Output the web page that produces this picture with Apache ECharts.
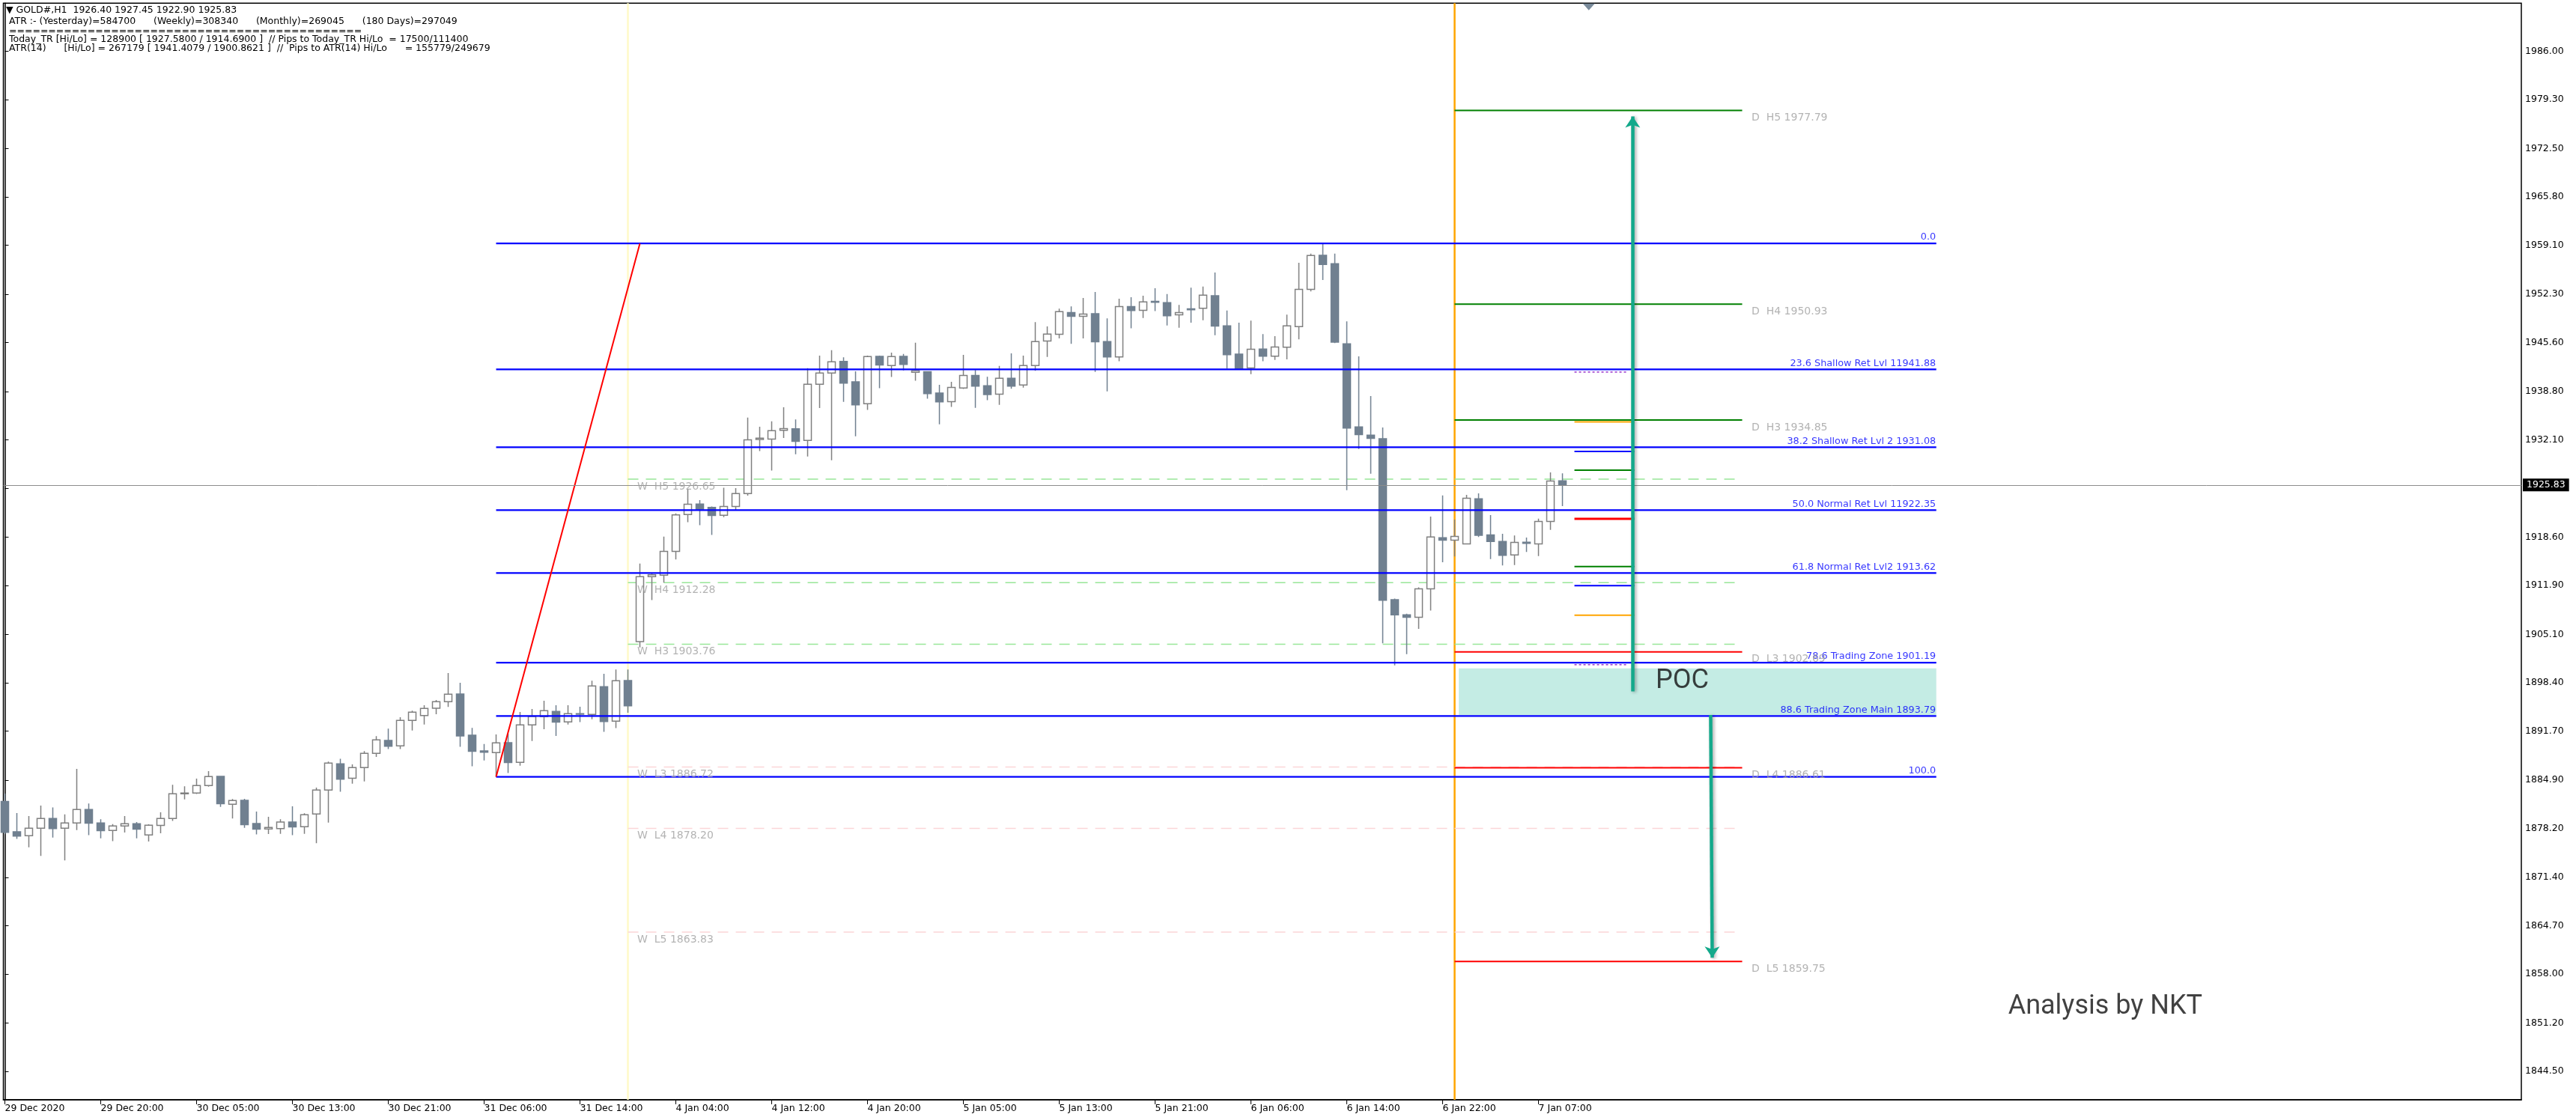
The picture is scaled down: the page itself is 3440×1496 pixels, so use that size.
<!DOCTYPE html>
<html><head><meta charset="utf-8">
<script src="https://cdn.jsdelivr.net/npm/echarts@6/dist/echarts.min.js"></script>
<style>html,body{margin:0;padding:0;background:#fff;}#c{width:3440px;height:1496px;}</style>
</head><body><div id="c"></div>
<script>
// ---------- data ----------
const xTickLabels = ['29 Dec 2020','29 Dec 20:00','30 Dec 05:00','30 Dec 13:00','30 Dec 21:00','31 Dec 06:00','31 Dec 14:00','4 Jan 04:00','4 Jan 12:00','4 Jan 20:00','5 Jan 05:00','5 Jan 13:00','5 Jan 21:00','6 Jan 06:00','6 Jan 14:00','6 Jan 22:00','7 Jan 07:00'];
const xTickStep = 8; // one label every 8 hourly bars
const yTickValues = [1844.50,1851.20,1858.00,1864.70,1871.40,1878.20,1884.90,1891.70,1898.40,1905.10,1911.90,1918.60,1925.40,1932.10,1938.80,1945.60,1952.30,1959.10,1965.80,1972.50,1979.30,1986.00];

const opens = [1881.93,1877.74,1877.19,1878.22,1879.57,1878.22,1878.95,1880.82,1878.95,1877.91,
1878.54,1878.85,1877.29,1878.61,1879.57,1883.00,1883.11,1884.14,1885.42,1881.55,
1882.10,1878.88,1878.12,1878.19,1879.09,1878.43,1880.20,1883.52,1887.16,1885.15,
1886.64,1888.61,1890.41,1889.65,1893.18,1893.87,1894.88,1895.77,1896.85,1891.14,
1888.96,1888.71,1890.10,1887.36,1892.56,1893.70,1894.42,1892.97,1894.11,1894.01,
1897.85,1893.07,1898.72,1904.10,1913.11,1913.33,1916.63,1921.75,1923.20,1922.72,
1921.64,1922.86,1924.64,1932.14,1932.21,1933.43,1933.62,1932.03,1939.81,1941.37,
1942.97,1940.15,1937.11,1943.67,1942.41,1943.67,1941.48,1941.56,1938.59,1937.40,
1939.30,1941.04,1939.59,1938.44,1940.63,1939.70,1942.40,1945.81,1946.73,1949.75,
1949.23,1949.59,1945.73,1943.59,1950.58,1950.07,1951.30,1951.14,1949.43,1950.27,
1950.34,1952.09,1947.92,1943.99,1942.08,1944.70,1943.71,1944.94,1947.80,1952.97,
1957.70,1956.54,1945.42,1933.89,1932.74,1932.26,1909.92,1907.82,1907.50,1911.43,
1918.51,1918.19,1917.67,1923.91,1918.91,1917.99,1916.12,1917.91,1917.67,1920.77,
1926.40];
const closes = [1877.67,1877.15,1878.22,1879.57,1878.19,1878.95,1880.82,1878.92,1877.88,1878.54,
1878.85,1878.09,1878.64,1879.57,1883.00,1883.10,1884.14,1885.39,1881.62,1882.07,
1878.71,1878.09,1878.33,1879.09,1878.40,1880.09,1883.52,1887.26,1885.04,1886.64,
1888.61,1890.48,1889.61,1893.18,1894.32,1894.84,1895.77,1896.81,1891.03,1888.89,
1888.78,1890.06,1887.33,1892.56,1893.73,1894.53,1892.94,1894.11,1894.04,1897.95,
1893.04,1898.68,1895.22,1913.11,1913.37,1916.63,1921.68,1923.16,1922.49,1921.60,
1922.86,1924.64,1932.10,1932.32,1933.36,1933.66,1931.88,1939.81,1941.37,1942.93,
1939.96,1936.96,1943.64,1942.49,1943.64,1942.56,1941.71,1938.52,1937.37,1939.37,
1941.04,1939.56,1938.37,1940.63,1939.56,1942.41,1945.73,1946.77,1949.87,1949.23,
1949.55,1945.69,1943.59,1950.58,1950.03,1951.22,1951.18,1949.31,1949.75,1950.15,
1952.17,1947.88,1943.91,1941.96,1944.66,1943.71,1944.98,1947.92,1952.97,1957.66,
1956.43,1945.65,1933.73,1932.82,1932.30,1909.84,1907.82,1907.50,1911.43,1918.63,
1918.19,1918.71,1923.99,1918.87,1917.99,1916.08,1917.87,1917.75,1920.77,1926.38,
1925.83];
const highs = [1883.04,1880.34,1879.92,1881.38,1881.10,1880.16,1886.46,1881.65,1879.47,1878.81,
1879.92,1879.09,1878.78,1880.44,1884.25,1884.04,1885.11,1886.15,1885.42,1882.28,
1882.31,1880.54,1879.82,1879.47,1881.27,1880.30,1883.87,1887.47,1887.85,1887.09,
1888.92,1891.00,1892.04,1893.63,1894.53,1895.29,1896.02,1899.75,1898.41,1892.14,
1889.92,1891.24,1891.34,1894.36,1894.77,1895.91,1895.29,1895.29,1895.08,1898.68,
1899.65,1900.24,1900.24,1914.93,1913.59,1918.67,1921.90,1925.27,1923.75,1922.86,
1925.46,1925.39,1935.18,1933.92,1934.66,1936.62,1934.92,1942.04,1943.78,1944.53,
1943.56,1941.60,1943.78,1943.78,1944.19,1944.01,1945.56,1941.56,1939.74,1940.15,
1943.89,1941.78,1940.85,1942.34,1944.08,1943.78,1948.44,1947.84,1950.30,1950.62,
1951.78,1952.61,1948.95,1951.66,1951.89,1952.09,1953.13,1952.33,1950.82,1953.21,
1953.37,1955.31,1950.03,1948.36,1948.63,1946.77,1946.49,1949.47,1956.66,1957.94,
1959.34,1957.94,1948.52,1943.67,1938.18,1933.81,1910.08,1907.98,1911.63,1921.45,
1924.39,1921.05,1924.47,1924.67,1921.65,1919.07,1918.83,1918.55,1921.17,1927.58,
1927.45];
const lows = [1877.40,1876.74,1875.59,1874.38,1876.94,1873.76,1877.98,1877.26,1876.84,1876.43,
1877.64,1876.84,1876.39,1877.53,1879.23,1882.24,1882.97,1884.00,1881.20,1879.57,
1878.29,1877.36,1877.43,1877.46,1877.26,1877.46,1876.15,1879.02,1883.28,1884.42,
1884.73,1888.12,1889.20,1889.20,1891.79,1892.62,1894.04,1895.05,1889.51,1886.81,
1887.64,1885.36,1885.88,1886.91,1890.34,1891.97,1891.03,1892.62,1892.94,1893.35,
1891.59,1892.11,1894.25,1903.30,1909.88,1912.29,1915.52,1920.68,1920.27,1918.90,
1921.38,1922.31,1924.35,1930.54,1927.83,1932.36,1930.10,1929.80,1936.51,1929.28,
1937.37,1932.58,1936.25,1939.26,1940.82,1941.74,1940.30,1937.81,1934.25,1936.66,
1939.15,1936.55,1937.59,1936.96,1939.19,1939.33,1941.68,1943.59,1946.17,1945.42,
1946.17,1941.52,1938.82,1943.00,1947.56,1948.99,1949.95,1947.96,1947.64,1948.36,
1948.68,1946.61,1941.96,1941.90,1941.20,1943.00,1943.19,1943.27,1946.05,1952.69,
1954.28,1945.53,1925.11,1930.83,1927.41,1903.88,1900.82,1902.37,1905.87,1908.41,
1915.13,1915.93,1917.60,1918.63,1915.57,1914.69,1914.73,1916.56,1915.97,1919.62,
1922.90];
const lastPrice = 1925.83;

// Fibonacci object (anchor bars / prices)
const fibLevels = [1959.34,1941.88,1931.08,1922.35,1913.62,1901.19,1893.79,1885.36];
const fibTexts  = ['0.0','23.6 Shallow Ret Lvl 11941.88','38.2 Shallow Ret Lvl 2 1931.08','50.0 Normal Ret Lvl 11922.35','61.8 Normal Ret Lvl2 1913.62','78.6 Trading Zone 1901.19','88.6 Trading Zone Main 1893.79','100.0'];
const fibAnchorBars = [41, 53];     // swing low bar -> swing high time
const fibRightEdge = 161.2;

// Daily Camarilla pivots
const dailyNames  = ['H5','H4','H3','L3','L4','L5'];
const dailyValues = [1977.79,1950.93,1934.85,1902.69,1886.61,1859.75];
const dayRange = [121, 145];
// Weekly pivots
const weeklyNames  = ['H5','H4','H3','L3','L4','L5'];
const weeklyValues = [1926.65,1912.28,1903.76,1886.72,1878.20,1863.83];
const weekRange = [52, 144.6];
// short zone levels
const zoneValues = [1941.50,1934.60,1930.49,1927.90,1921.13,1914.51,1911.88,1907.77,1900.91];
const zoneRange = [131, 136];
// POC zone and arrows
const pocZone = {from:121.35, to:161.2, top:1900.41, bottom:1893.93};
const pocText = {x:140, y:1898.61, text:'POC'};
const upArrow = [[135.86,1897.2],[135.86,1976.97]];
const downArrow = [[142.37,1893.93],[142.5,1860.26]];
const signature = {x:175.3, y:1853.46, text:'Analysis by NKT'};
const shiftMarkBar = 132.2;

const headerLines = [
 '\u25BC GOLD#,H1  1926.40 1927.45 1922.90 1925.83',
 'ATR :- (Yesterday)=584700      (Weekly)=308340      (Monthly)=269045      (180 Days)=297049',
 '=============================================',
 'Today_TR [Hi/Lo] = 128900 [ 1927.5800 / 1914.6900 ]  // Pips to Today_TR Hi/Lo  = 17500/111400',
 'ATR(14)      [Hi/Lo] = 267179 [ 1941.4079 / 1900.8621 ]  //  Pips to ATR(14) Hi/Lo      = 155779/249679'
];

// ---------- styles ----------
const zoneStyles = [
 {color:'#9932cc', width:1.5, type:[3,3]},
 {color:'#ffa500', width:2},
 {color:'#0000ff', width:2},
 {color:'#008000', width:2},
 {color:'#ff0000', width:3},
 {color:'#008000', width:2},
 {color:'#0000ff', width:2},
 {color:'#ffa500', width:2},
 {color:'#9932cc', width:1.5, type:[3,3]}
];
const AX_FONT = 'DejaVu Sans';

const chart = echarts.init(document.getElementById('c'), null, {renderer:'canvas'});

function seg(x1, x2, y, ls, z) {
  return {type:'line', data:[[x1,y],[x2,y]], symbol:'none', silent:true, animation:false,
          lineStyle:Object.assign({}, ls), z:z||3};
}

const series = [];
// POC area (below everything)
series.push({type:'line', data:[], silent:true, z:1,
  markArea:{silent:true, z:1, itemStyle:{color:'#c4ece4'},
    data:[[{coord:[pocZone.from,pocZone.top]},{coord:[pocZone.to,pocZone.bottom]}]]}});
// vertical separators
series.push({type:'line', data:[], silent:true, z:1,
  markLine:{silent:true, z:1, symbol:['none','none'], label:{show:false}, animation:false,
    data:[{xAxis:weekRange[0], lineStyle:{color:'#fffac8', width:2.5, type:'solid'}},
          {xAxis:dayRange[0], lineStyle:{color:'#ffa500', width:2.5, type:'solid'}}]}});
// candles
series.push({type:'candlestick', name:'GOLD#,H1', z:2,
  data: opens.map((o,i)=>[i, o, closes[i], lows[i], highs[i]]),
  encode:{x:0, y:[1,2,3,4]},
  barWidth:11,
  itemStyle:{color:'#ffffff', color0:'#708090', borderColor:'#808080', borderColor0:'#708090', borderWidth:1.5},
  markPoint:{silent:true, animation:false,
    data:[{coord:[shiftMarkBar, 1992.66], symbol:'triangle', symbolRotate:180, symbolSize:[16,9], symbolOffset:[0,5],
      itemStyle:{color:'#7a8b9b'}, label:{show:false}}]}
});
// weekly pivots
weeklyValues.forEach((v,i)=>{
  const isH = weeklyNames[i][0]==='H';
  series.push(seg(weekRange[0], weekRange[1], v, {color: isH?'#98e698':'#fbd5d8', width:1.5, type:[14,10]}, 2));
});
// fib lines
fibLevels.forEach(v=>series.push(seg(fibAnchorBars[0], fibRightEdge, v, {color:'#0000ff', width:2.2}, 4)));
// fib trend line
series.push({type:'line', data:[[fibAnchorBars[0], fibLevels[7]],[fibAnchorBars[1], fibLevels[0]]], symbol:'none', silent:true,
  lineStyle:{color:'#ff0000', width:2}, z:4});
// daily pivots
dailyValues.forEach((v,i)=>{
  const isH = dailyNames[i][0]==='H';
  series.push(seg(dayRange[0], dayRange[1], v, {color: isH?'#008000':'#ff0000', width:2}, 3));
});
// zone ticks
zoneValues.forEach((v,i)=>{
  const st = zoneStyles[i];
  const end = st.type ? zoneRange[1]-0.5 : zoneRange[1];
  series.push(seg(zoneRange[0], end, v, {color:st.color, width:st.width, type:st.type||'solid'}, 3));
});
// arrows
series.push({type:'line', data:[], silent:true, z:6,
  markLine:{silent:true, z:6, animation:false, symbol:['none','arrow'], symbolSize:15, label:{show:false},
    lineStyle:{color:'#13a98b', width:4.5, type:'solid', shadowColor:'rgba(0,0,0,0.35)', shadowBlur:4, shadowOffsetX:2, shadowOffsetY:1},
    data:[[{coord:upArrow[0]},{coord:upArrow[1]}],[{coord:downArrow[0]},{coord:downArrow[1]}]]}});
// current price line
series.push({type:'line', data:[], silent:true, z:5,
  markLine:{silent:true, z:5, animation:false, symbol:['none','none'],
    data:[{yAxis:lastPrice}],
    lineStyle:{color:'#8c8c8c', width:1, type:'solid'},
    label:{show:true, position:'end', distance:2, formatter:lastPrice.toFixed(2), color:'#fff', backgroundColor:'#000',
      padding:[2,5,2,5], fontFamily:AX_FONT, fontSize:12.5}}});

// text labels
const labelData = [];
fibLevels.forEach((v,i)=>labelData.push({value:[fibRightEdge, v], label:{show:true, formatter:fibTexts[i], position:'left', distance:0, offset:[0,-8],
  color:'#0000ff', fontFamily:AX_FONT, fontSize:12.8}}));
dailyValues.forEach((v,i)=>labelData.push({value:[dayRange[1], v], label:{show:true, formatter:'D  '+dailyNames[i]+' '+v.toFixed(2), position:'right', distance:12, offset:[0,10],
  color:'#a0a0a0', fontFamily:AX_FONT, fontSize:14}}));
weeklyValues.forEach((v,i)=>labelData.push({value:[weekRange[0], v], label:{show:true, formatter:'W  '+weeklyNames[i]+' '+v.toFixed(2), position:'right', distance:12, offset:[0,10],
  color:'#a0a0a0', fontFamily:AX_FONT, fontSize:14}}));
labelData.push({value:[pocText.x, pocText.y], label:{show:true, formatter:pocText.text, position:'inside', color:'#111', fontFamily:'Roboto', fontSize:36}});
labelData.push({value:[signature.x, signature.y], label:{show:true, formatter:signature.text, position:'inside', color:'#111', fontFamily:'Roboto', fontSize:36}});
series.push({type:'scatter', data:labelData, symbolSize:1, itemStyle:{color:'rgba(0,0,0,0)'}, silent:true, z:7, animation:false});

const xTickIdx = xTickLabels.map((_,i)=>i*xTickStep);
const headerY = [14, 29, 42, 53, 64.5];

chart.setOption({
  animation:false,
  backgroundColor:'#ffffff',
  grid:{left:4.5, right:73, top:4.3, bottom:27, show:true, borderColor:'#000', borderWidth:1.5, backgroundColor:'#fff'},
  xAxis:{type:'value', min:-0.125, max:210.03, splitLine:{show:false},
    axisLine:{show:true, onZero:false, lineStyle:{color:'#000', width:1.5}},
    axisTick:{show:true, customValues:xTickIdx, length:6, lineStyle:{color:'#000', width:1}},
    axisLabel:{show:true, customValues:xTickIdx, align:'left', margin:5, color:'#000', fontFamily:AX_FONT, fontSize:12.5,
      formatter:(v)=>xTickLabels[Math.round(v/xTickStep)]}},
  yAxis:{type:'value', position:'right', min:1840.56, max:1992.66, scale:true, splitLine:{show:false},
    axisLine:{show:true, lineStyle:{color:'#000', width:1.5}},
    axisTick:{show:true, customValues:yTickValues, length:5, lineStyle:{color:'#000', width:1}},
    axisLabel:{show:true, customValues:yTickValues, margin:5, color:'#000', fontFamily:AX_FONT, fontSize:12.5,
      formatter:(v)=>v.toFixed(2)}},
  graphic: headerLines.map((t,i)=>({type:'text', x: i===0?8:12, y: headerY[i], silent:true, z:100,
      style:{text:t, fill:'#000', fontFamily:AX_FONT, fontSize:12.5, verticalAlign:'middle'}})),
  series: series
});
</script></body></html>
